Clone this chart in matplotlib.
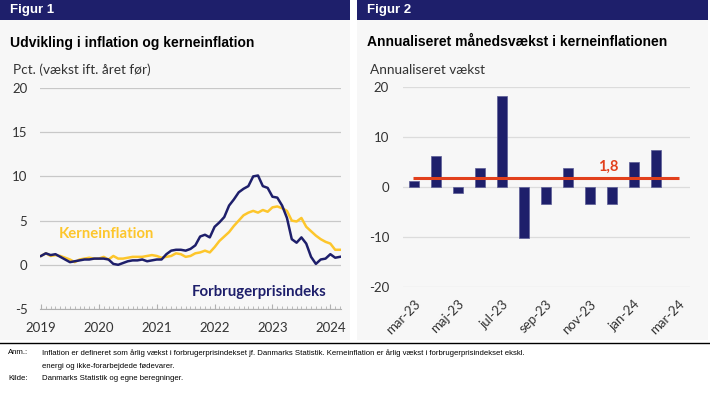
import numpy as np
import matplotlib.pyplot as plt
from matplotlib.patches import Rectangle

plt.rcParams['axes.unicode_minus'] = False

# Figur 1: årlig vækst, månedlig jan 2019 - mar 2024
fpi = [1.0, 1.3, 1.1, 1.2, 0.9, 0.6, 0.3, 0.4, 0.5, 0.6, 0.6, 0.7,
       0.7, 0.7, 0.6, 0.1, 0.0, 0.2, 0.4, 0.5, 0.5, 0.6, 0.4, 0.5,
       0.6, 0.6, 1.2, 1.6, 1.7, 1.7, 1.6, 1.8, 2.2, 3.2, 3.4, 3.1,
       4.3, 4.8, 5.4, 6.7, 7.4, 8.2, 8.6, 8.9, 10.0, 10.1, 8.9, 8.7,
       7.7, 7.6, 6.7, 5.3, 2.9, 2.5, 3.1, 2.4, 0.9, 0.1, 0.6, 0.7,
       1.2, 0.8, 0.9]
kerne = [1.0, 1.3, 1.0, 1.1, 1.0, 0.8, 0.6, 0.3, 0.6, 0.7, 0.8, 0.7,
         0.7, 0.9, 0.6, 1.0, 0.7, 0.7, 0.8, 0.9, 0.9, 0.9, 1.0, 1.1,
         1.0, 0.8, 0.9, 1.0, 1.3, 1.2, 0.9, 1.0, 1.3, 1.4, 1.6, 1.4,
         2.0, 2.7, 3.2, 3.7, 4.4, 5.0, 5.6, 5.9, 6.1, 5.9, 6.2, 6.0,
         6.5, 6.6, 6.4, 6.1, 5.0, 4.9, 5.3, 4.3, 3.8, 3.3, 2.9, 2.6,
         2.4, 1.7, 1.7]
years = ['2019', '2020', '2021', '2022', '2023', '2024']

# Figur 2: annualiseret månedsvækst i kerneinflationen
months2 = ['mar-23', 'apr-23', 'maj-23', 'jun-23', 'jul-23', 'aug-23', 'sep-23',
           'okt-23', 'nov-23', 'dec-23', 'jan-24', 'feb-24', 'mar-24']
vaekst = [1.2, 6.1, -1.2, 3.7, 18.2, -10.2, -3.5, 3.7, -3.5, -3.5, 4.9, 7.4, np.nan]
kerne_niveau = 1.8

navy = '#1e1f6b'
yellow = '#fdc62c'
red = '#e2401c'
panel = '#f7f7f7'
txt = '#333333'
lato = ['Lato', 'DejaVu Sans']
arial = ['Liberation Sans', 'DejaVu Sans']

W, H = 710, 395
fig = plt.figure(figsize=(7.1, 3.95), dpi=100)
bg = fig.add_axes([0, 0, 1, 1])
bg.set_xlim(0, W)
bg.set_ylim(H, 0)
bg.axis('off')

def px(x0, y0, x1, y1):
    return [x0 / W, 1 - y1 / H, (x1 - x0) / W, (y1 - y0) / H]

# paneler og overskrifter
for x0, x1, lab, title, sub in [(0, 350, 'Figur 1', 'Udvikling i inflation og kerneinflation', 'Pct. (vækst ift. året før)'),
                                (357, 708, 'Figur 2', 'Annualiseret månedsvækst i kerneinflationen', 'Annualiseret vækst')]:
    bg.add_patch(Rectangle((x0, 20), x1 - x0, 320, color=panel, lw=0))
    bg.add_patch(Rectangle((x0, 0), x1 - x0, 20, color=navy, lw=0))
    bg.text(x0 + 10, 10.5, lab, color='white', fontsize=9.5, fontweight='bold', family=arial, va='center')
    bg.text(x0 + 10, 42.5, title, color='black', fontsize=10, fontweight='bold', family=arial, va='center')
    bg.text(x0 + 13, 70, sub, color=txt, fontsize=9.8, family=lato, va='center')

bg.plot([0, W], [343, 343], color='black', lw=1)
fs = 5.6
bg.text(8, 353, 'Anm.:', fontsize=fs, family=arial, va='center')
bg.text(42, 353, 'Inflation er defineret som årlig vækst i forbrugerprisindekset jf. Danmarks Statistik. '
        'Kerneinflation er årlig vækst i forbrugerprisindekset ekskl.', fontsize=fs, family=arial, va='center')
bg.text(42, 366.5, 'energi og ikke-forarbejdede fødevarer.', fontsize=fs, family=arial, va='center')
bg.text(8, 378.5, 'Kilde:', fontsize=fs, family=arial, va='center')
bg.text(42, 378.5, 'Danmarks Statistik og egne beregninger.', fontsize=fs, family=arial, va='center')

# Figur 1
ax = fig.add_axes(px(40, 88, 341, 309))
ax.set_facecolor('none')
x = np.arange(len(fpi))
ax.plot(x, kerne, color=yellow, lw=1.8, zorder=3)
ax.plot(x, fpi, color=navy, lw=1.8, zorder=4)
ax.set_xlim(-0.21, 62.21)
ax.set_ylim(-5, 20)
ax.set_yticks([-5, 0, 5, 10, 15, 20])
ax.set_xticks(np.arange(0, 61, 12))
ax.set_xticklabels(years)
ax.set_xticks(x, minor=True)
ax.grid(axis='y', color='#c8c8c8', lw=0.9)
for s in ['top', 'right', 'left']:
    ax.spines[s].set_visible(False)
ax.spines['bottom'].set_color('#b0b0b0')
ax.spines['bottom'].set_linewidth(0.8)
ax.tick_params(axis='y', length=0, pad=9, labelsize=9.5, labelcolor=txt)
ax.tick_params(axis='x', which='major', direction='in', length=3.5, color='#b0b0b0', pad=9, labelsize=9.5, labelcolor=txt)
ax.tick_params(axis='x', which='minor', direction='in', length=2.5, color='#b0b0b0')
for t in ax.get_xticklabels() + ax.get_yticklabels():
    t.set_family(lato)
ax.text(3.6, 3.5, 'Kerneinflation', color=yellow, fontsize=10.7, fontweight='bold', family=lato, va='center')
ax.text(31.2, -3.1, 'Forbrugerprisindeks', color=navy, fontsize=10.8, fontweight='bold', family=lato, va='center')

# Figur 2
ax2 = fig.add_axes(px(403, 86.7, 690, 286.7))
ax2.set_facecolor('none')
x2 = np.arange(len(months2))
ax2.bar(x2, vaekst, width=0.42, color=navy, edgecolor='#5b5d96', lw=0.5, zorder=3)
ax2.hlines(kerne_niveau, x2[0] - 0.05, x2[-1] + 0.05, color=red, lw=2.2, zorder=4)
ax2.text(8.35, kerne_niveau + 2.2, '1,8', color=red, fontsize=10.5, fontweight='bold', family=lato, va='center')
ax2.set_xlim(-0.5, 12.55)
ax2.set_ylim(-20, 20)
ax2.set_yticks([-20, -10, 0, 10, 20])
ax2.set_xticks(x2[::2])
ax2.set_xticklabels(months2[::2], rotation=45, ha='right', rotation_mode='anchor')
ax2.grid(axis='y', color='#dcdcdc', lw=0.9)
for s in ax2.spines.values():
    s.set_visible(False)
ax2.tick_params(axis='y', length=0, pad=10, labelsize=9.5, labelcolor=txt)
ax2.tick_params(axis='x', length=0, pad=8, labelsize=9.5, labelcolor=txt)
for t in ax2.get_xticklabels() + ax2.get_yticklabels():
    t.set_family(lato)

fig.savefig('out.png', dpi=100)
